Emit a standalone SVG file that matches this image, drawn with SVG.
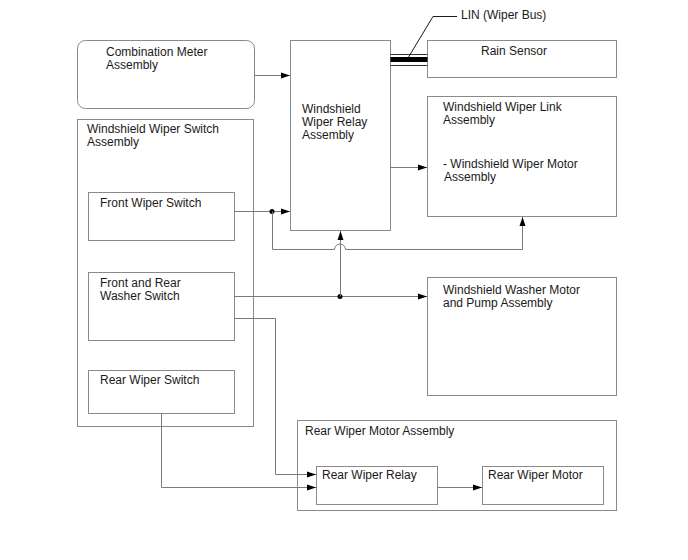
<svg xmlns="http://www.w3.org/2000/svg" width="688" height="560" viewBox="0 0 688 560">
<style>
  .box { fill: #ffffff; stroke: #8a8a8a; stroke-width: 1; }
  .t { font-family: "Liberation Sans", Arial, sans-serif; font-size: 12px; fill: #1a1a1a; }
  .ln { fill: none; stroke: #7a7a7a; stroke-width: 1; }
  .dot { fill: #000000; }
</style>
<defs>
  <marker id="arr" markerWidth="9" markerHeight="7" refX="9" refY="3.5" orient="auto" markerUnits="userSpaceOnUse">
    <path d="M0,0.5 L9,3.5 L0,6.5 z" fill="#000000"/>
  </marker>
</defs>
<rect width="688" height="560" fill="#ffffff"/>

<g id="combination-meter">
  <rect class="box" x="77.5" y="40.5" width="177" height="68" rx="8" ry="8"/>
  <text class="t" x="106" y="56">Combination Meter</text>
  <text class="t" x="106" y="69">Assembly</text>
</g>

<g id="wiper-switch-assembly">
  <rect class="box" x="77.5" y="119.5" width="176" height="307"/>
  <text class="t" x="87" y="133">Windshield Wiper Switch</text>
  <text class="t" x="87" y="146">Assembly</text>
</g>

<g id="front-wiper-switch">
  <rect class="box" x="88.5" y="192.5" width="146" height="48"/>
  <text class="t" x="100" y="207">Front Wiper Switch</text>
</g>

<g id="washer-switch">
  <rect class="box" x="88.5" y="272.5" width="146" height="68"/>
  <text class="t" x="100" y="287">Front and Rear</text>
  <text class="t" x="100" y="300">Washer Switch</text>
</g>

<g id="rear-wiper-switch">
  <rect class="box" x="88.5" y="370.5" width="146" height="43"/>
  <text class="t" x="100" y="384">Rear Wiper Switch</text>
</g>

<g id="wiper-relay-assembly">
  <rect class="box" x="290.5" y="40.5" width="100" height="190"/>
  <text class="t" x="302" y="113">Windshield</text>
  <text class="t" x="302" y="126">Wiper Relay</text>
  <text class="t" x="302" y="139">Assembly</text>
</g>

<g id="rain-sensor">
  <rect class="box" x="427.5" y="40.5" width="189" height="37"/>
  <text class="t" x="481" y="55">Rain Sensor</text>
</g>

<g id="wiper-link-assembly">
  <rect class="box" x="427.5" y="96.5" width="189" height="120"/>
  <text class="t" x="443" y="111">Windshield Wiper Link</text>
  <text class="t" x="443" y="124">Assembly</text>
  <text class="t" x="443" y="168">- Windshield Wiper Motor</text>
  <text class="t" x="444" y="181">Assembly</text>
</g>

<g id="washer-motor">
  <rect class="box" x="427.5" y="277.5" width="189" height="118"/>
  <text class="t" x="443" y="294">Windshield Washer Motor</text>
  <text class="t" x="443" y="307">and Pump Assembly</text>
</g>

<g id="rear-wiper-motor-assembly">
  <rect class="box" x="297.5" y="420.5" width="319" height="90"/>
  <text class="t" x="305" y="435">Rear Wiper Motor Assembly</text>
</g>

<g id="rear-wiper-relay">
  <rect class="box" x="316.5" y="466.5" width="121" height="38"/>
  <text class="t" x="322" y="479">Rear Wiper Relay</text>
</g>

<g id="rear-wiper-motor">
  <rect class="box" x="482.5" y="466.5" width="121" height="38"/>
  <text class="t" x="488" y="479">Rear Wiper Motor</text>
</g>

<g id="connectors">
  <!-- Combination meter to relay -->
  <path class="ln" d="M254,75.5 H290" marker-end="url(#arr)"/>
  <!-- LIN bus -->
  <line x1="390.5" y1="54.5" x2="427.5" y2="54.5" stroke="#333333" stroke-width="1"/>
  <rect x="390.5" y="57" width="37" height="5" fill="#000000"/>
  <line x1="390.5" y1="65.5" x2="427.5" y2="65.5" stroke="#333333" stroke-width="1"/>
  <path d="M408,58 L433,16.5 H457" fill="none" stroke="#1a1a1a" stroke-width="1"/>
  <text class="t" x="461" y="19">LIN (Wiper Bus)</text>
  <!-- Relay to wiper link -->
  <path class="ln" d="M390,167.5 H427" marker-end="url(#arr)"/>
  <!-- Front wiper switch to relay -->
  <path class="ln" d="M234,211.5 H290" marker-end="url(#arr)"/>
  <circle class="dot" cx="272" cy="211.5" r="2.5"/>
  <!-- branch to wiper link with jump -->
  <path class="ln" d="M272.5,211.5 V249.5 H334.5 A5.5,5.5 0 0 1 345.5,249.5 H522.5 V217" marker-end="url(#arr)"/>
  <!-- Washer switch to washer motor -->
  <path class="ln" d="M234,296.5 H427" marker-end="url(#arr)"/>
  <circle class="dot" cx="340" cy="296.5" r="2.5"/>
  <path class="ln" d="M340.5,296.5 V231" marker-end="url(#arr)"/>
  <!-- Washer switch to rear wiper relay -->
  <path class="ln" d="M234,318.5 H275.5 V474.5 H316" marker-end="url(#arr)"/>
  <!-- Rear wiper switch to rear wiper relay -->
  <path class="ln" d="M161.5,413 V487.5 H316" marker-end="url(#arr)"/>
  <!-- Rear relay to rear motor -->
  <path class="ln" d="M437,487.5 H482" marker-end="url(#arr)"/>
</g>
</svg>
